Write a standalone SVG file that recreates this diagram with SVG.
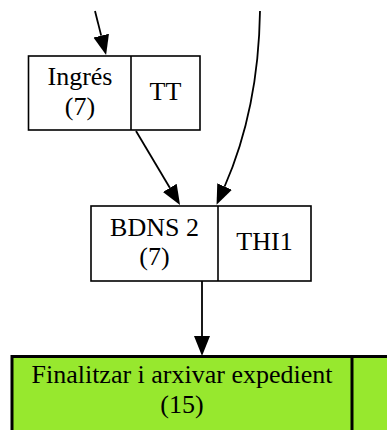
<svg xmlns="http://www.w3.org/2000/svg" width="387" height="430" viewBox="0 0 387 430">
<style>
.box{fill:#ffffff;stroke:#000000;stroke-width:1.6}
.green{fill:#97e82e;stroke:#000000;stroke-width:3}
.t{font-family:"Liberation Serif","Times New Roman",serif;font-size:26px;fill:#000000;text-anchor:middle}
.e{fill:none;stroke:#000000;stroke-width:1.8}
</style>
<defs>
<marker id="arr" markerUnits="userSpaceOnUse" markerWidth="22" markerHeight="18" refX="0" refY="8" orient="auto" viewBox="0 0 22 16">
<path d="M0,0 L20,8 L0,16 z" fill="#000000"/>
</marker>
</defs>
<rect width="387" height="430" fill="#ffffff"/>
<g id="connectors">
<path class="e" d="M95,11 L101.2,35.6" marker-end="url(#arr)"/>
<path class="e" d="M260,11 C259,80 245,140 224.6,186.5" marker-end="url(#arr)"/>
<path class="e" d="M136,131 L169.8,187.8" marker-end="url(#arr)"/>
<path class="e" d="M202,281 L202,336" marker-end="url(#arr)"/>
</g>
<g id="node-ingres">
<rect class="box" x="28.5" y="56" width="171.5" height="74"/>
<line class="box" x1="131" y1="56" x2="131" y2="130"/>
<text class="t" x="80" y="85">Ingrés</text>
<text class="t" x="80" y="115">(7)</text>
<text class="t" x="165.5" y="100">TT</text>
</g>
<g id="node-bdns2">
<rect class="box" x="91" y="206" width="220" height="75"/>
<line class="box" x1="218" y1="206" x2="218" y2="281"/>
<text class="t" x="154.5" y="236">BDNS 2</text>
<text class="t" x="154.5" y="265">(7)</text>
<text class="t" x="264.5" y="250">THI1</text>
</g>
<g id="node-finalitzar">
<rect class="green" x="12" y="356.5" width="390" height="90"/>
<line class="green" x1="352" y1="356.5" x2="352" y2="440"/>
<text class="t" x="182" y="383">Finalitzar i arxivar expedient</text>
<text class="t" x="182" y="413">(15)</text>
</g>
</svg>
